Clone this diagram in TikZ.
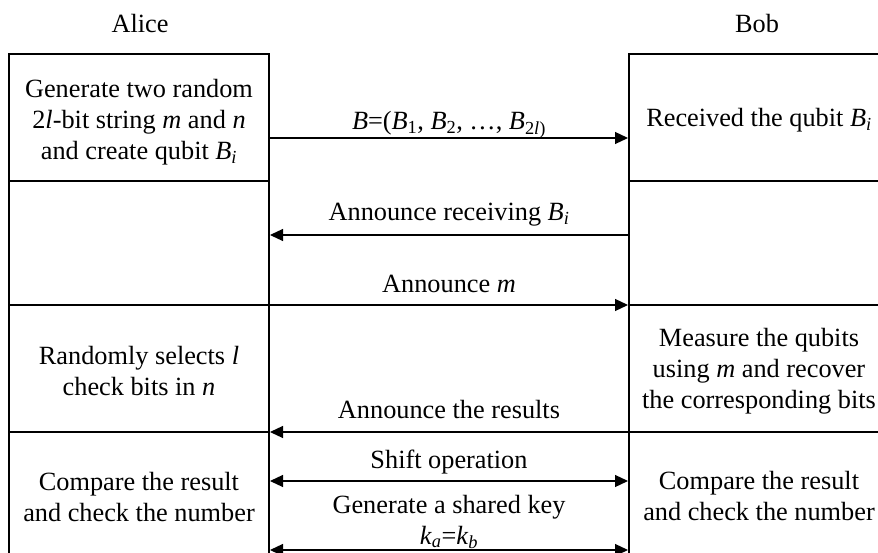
\documentclass[tikz,border=0pt]{standalone}
\usepackage{fontspec}
\setmainfont{Liberation Serif}
\usetikzlibrary{arrows.meta}
\newcommand{\vi}[1]{\textit{#1}}
\newcommand{\sub}[1]{\textsubscript{#1}}

\begin{document}
\begin{tikzpicture}[x=1pt,y=-1pt,
  txt/.style={font=\fontsize{26.3}{31}\selectfont},
  cell/.style={draw, line width=2pt, minimum width=260pt, inner sep=0pt},
  body/.style={txt, align=center, inner sep=0pt},
  tip/.tip={Triangle[length=13pt,width=12pt]},
  msg/.style={line width=1.2pt, -tip},
  both/.style={line width=1.2pt, tip-tip},
  lbl/.style={anchor=base, txt},
]
\useasboundingbox (0,0) rectangle (878,553);
\clip (0,0) rectangle (878,553);

% party names
\node[txt] (alice) at (140,24) {Alice};
\node[txt] (bob) at (757,24) {Bob};

% Alice's column
\node[cell, minimum height=127pt] (a1) at (139,117.5) {};
\node[cell, minimum height=124pt] (a2) at (139,243) {};
\node[cell, minimum height=127pt] (a3) at (139,368.5) {};
\node[cell, minimum height=130pt] (a4) at (139,497) {};

% Bob's column
\node[cell, minimum height=127pt] (b1) at (759,117.5) {};
\node[cell, minimum height=124pt] (b2) at (759,243) {};
\node[cell, minimum height=127pt] (b3) at (759,368.5) {};
\node[cell, minimum height=130pt] (b4) at (759,497) {};

% cell texts
\node[body] (a1t) at ([yshift=-5pt]a1.center)
  {Generate two random\\2\vi{l}-bit string \vi{m} and \vi{n}\\and create qubit \vi{B}\sub{\vi{i}}};
\node[body] (a3t) at ([yshift=-3pt]a3.center)
  {Randomly selects \vi{l}\\check bits in \vi{n}};
\node[body] (a4t) at (a4.center)
  {Compare the result\\and check the number};
\node[body] (b1t) at ([yshift=-3pt]b1.center)
  {Received the qubit \vi{B}\sub{\vi{i}}};
\node[body] (b3t) at ([yshift=-3pt]b3.center)
  {Measure the qubits\\using \vi{m} and recover\\the corresponding bits};
\node[body] (b4t) at ([yshift=1pt]b4.center)
  {Compare the result\\and check the number};

% message levels
\coordinate (y1) at (0,138);
\coordinate (y2) at (0,235);
\coordinate (y3) at (0,305);
\coordinate (y4) at (0,432);
\coordinate (y5) at (0,481);
\coordinate (y6) at (0,550);

\draw[msg] (a1.east |- y1) -- (b1.west |- y1);
\draw[msg] (b2.west |- y2) -- (a2.east |- y2);
\draw[msg] (a3.east |- y3) -- (b3.west |- y3);
\draw[msg] (b4.west |- y4) -- (a4.east |- y4);
\draw[both] (a4.east |- y5) -- (b4.west |- y5);
\draw[both] (a4.east |- y6) -- (b4.west |- y6);

% message labels
\node[lbl] (m1) at (449,130)
  {\vi{B}=(\vi{B}\sub{1}, \vi{B}\sub{2}, …, \vi{B}\sub{2\vi{l})}};
\node[lbl] (m2) at (449,221) {Announce receiving \vi{B}\sub{\vi{i}}};
\node[lbl] (m3) at (449,293) {Announce \vi{m}};
\node[lbl] (m4) at (449,418) {Announce the results};
\node[lbl] (m5) at (449,468) {Shift operation};
\node[lbl] (m6) at (449,513) {Generate a shared key};
\node[lbl] (m7) at (449,544) {\vi{k}\sub{\vi{a}}=\vi{k}\sub{\vi{b}}};
\end{tikzpicture}
\end{document}
